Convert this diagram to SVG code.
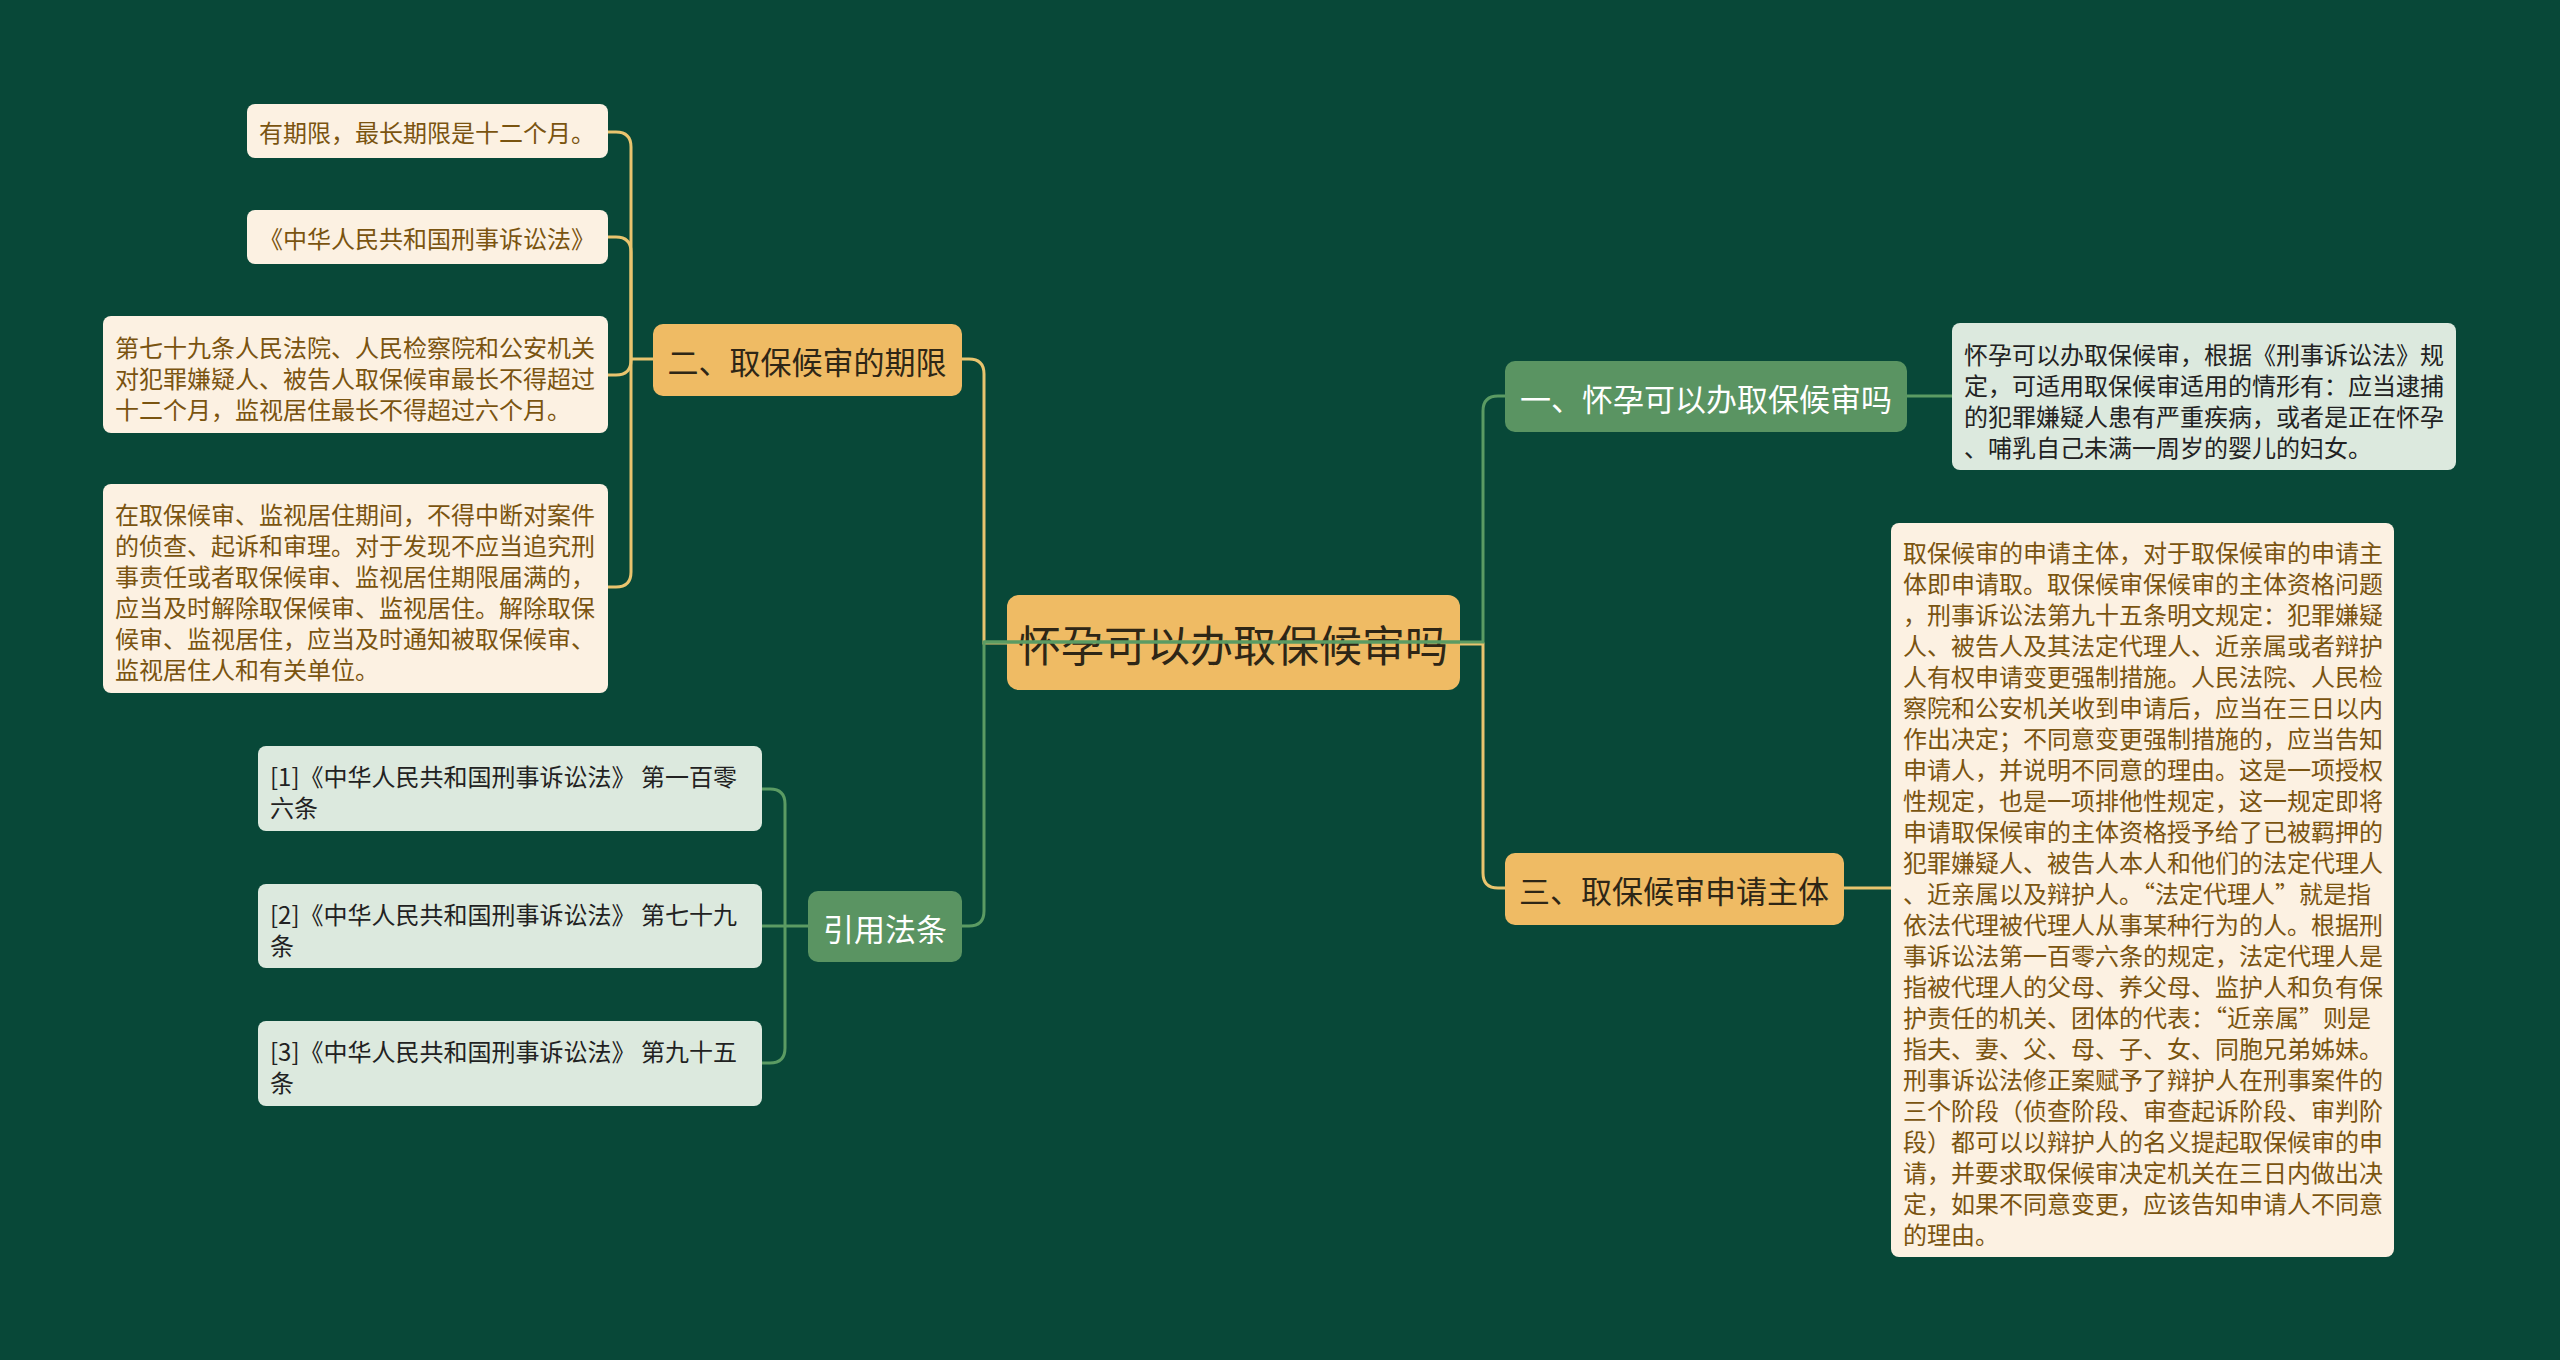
<svg xmlns="http://www.w3.org/2000/svg" width="2560" height="1360" viewBox="0 0 2560 1360">
<style>
text{font-family:"Noto Sans CJK SC","Noto Sans",sans-serif;dominant-baseline:central}
.bg{fill:#084838}
.root{fill:#efbb64}
.rootT{font-size:43px;fill:#2e2616;text-anchor:middle}
.y1{fill:#efbb64}
.y1T{font-size:31px;fill:#2e2616;text-anchor:middle}
.g1{fill:#5a9462}
.g1T{font-size:31px;fill:#ffffff;text-anchor:middle}
.cream{fill:#fcf1e2}
.creamT{font-size:24px;fill:#7a5410}
.lg{fill:#dce9de}
.lgT{font-size:24px;fill:#222222}
.cy{fill:none;stroke:#e9c46e;stroke-width:3}
.cg{fill:none;stroke:#5b9b63;stroke-width:3}
</style>
<rect class="bg" x="0" y="0" width="2560" height="1360"/>

<g id="root">
<rect class="root" x="1007" y="595" width="453" height="95" rx="12"/>
<text class="rootT" x="1233" y="643">怀孕可以办取保候审吗</text>
</g>

<g id="n2">
<rect class="y1" x="653" y="324" width="309" height="72" rx="10"/>
<text class="y1T" x="807" y="360">二、取保候审的期限</text>
</g>
<g id="n2a">
<rect class="cream" x="247" y="104" width="361" height="54" rx="8"/>
<text class="creamT" x="259" y="131">有期限，最长期限是十二个月。</text>
</g>
<g id="n2b">
<rect class="cream" x="247" y="210" width="361" height="54" rx="8"/>
<text class="creamT" x="259" y="237">《中华人民共和国刑事诉讼法》</text>
</g>
<g id="n2c">
<rect class="cream" x="103" y="316" width="505" height="117" rx="8"/>
<text class="creamT" x="115" y="346">第七十九条人民法院、人民检察院和公安机关</text>
<text class="creamT" x="115" y="377">对犯罪嫌疑人、被告人取保候审最长不得超过</text>
<text class="creamT" x="115" y="408">十二个月，监视居住最长不得超过六个月。</text>
</g>
<g id="n2d">
<rect class="cream" x="103" y="484" width="505" height="209" rx="8"/>
<text class="creamT" x="115" y="513">在取保候审、监视居住期间，不得中断对案件</text>
<text class="creamT" x="115" y="544">的侦查、起诉和审理。对于发现不应当追究刑</text>
<text class="creamT" x="115" y="575">事责任或者取保候审、监视居住期限届满的，</text>
<text class="creamT" x="115" y="606">应当及时解除取保候审、监视居住。解除取保</text>
<text class="creamT" x="115" y="637">候审、监视居住，应当及时通知被取保候审、</text>
<text class="creamT" x="115" y="668">监视居住人和有关单位。</text>
</g>

<g id="n4">
<rect class="g1" x="808" y="891" width="154" height="71" rx="10"/>
<text class="g1T" x="885" y="927">引用法条</text>
</g>
<g id="n4a">
<rect class="lg" x="258" y="746" width="504" height="85" rx="8"/>
<text class="lgT" x="270" y="775">[1]《中华人民共和国刑事诉讼法》 第一百零</text>
<text class="lgT" x="270" y="806">六条</text>
</g>
<g id="n4b">
<rect class="lg" x="258" y="884" width="504" height="84" rx="8"/>
<text class="lgT" x="270" y="913">[2]《中华人民共和国刑事诉讼法》 第七十九</text>
<text class="lgT" x="270" y="944">条</text>
</g>
<g id="n4c">
<rect class="lg" x="258" y="1021" width="504" height="85" rx="8"/>
<text class="lgT" x="270" y="1050">[3]《中华人民共和国刑事诉讼法》 第九十五</text>
<text class="lgT" x="270" y="1081">条</text>
</g>

<g id="n1">
<rect class="g1" x="1505" y="361" width="402" height="71" rx="10"/>
<text class="g1T" x="1706" y="397">一、怀孕可以办取保候审吗</text>
</g>
<g id="n1a">
<rect class="lg" x="1952" y="323" width="504" height="147" rx="8"/>
<text class="lgT" x="1964" y="353">怀孕可以办取保候审，根据《刑事诉讼法》规</text>
<text class="lgT" x="1964" y="384">定，可适用取保候审适用的情形有：应当逮捕</text>
<text class="lgT" x="1964" y="415">的犯罪嫌疑人患有严重疾病，或者是正在怀孕</text>
<text class="lgT" x="1964" y="446">、哺乳自己未满一周岁的婴儿的妇女。</text>
</g>

<g id="n3">
<rect class="y1" x="1505" y="853" width="339" height="72" rx="10"/>
<text class="y1T" x="1674" y="889">三、取保候审申请主体</text>
</g>
<g id="n3a">
<rect class="cream" x="1891" y="523" width="503" height="734" rx="8"/>
<text class="creamT" x="1903" y="551">取保候审的申请主体，对于取保候审的申请主</text>
<text class="creamT" x="1903" y="582">体即申请取。取保候审保候审的主体资格问题</text>
<text class="creamT" x="1903" y="613">，刑事诉讼法第九十五条明文规定：犯罪嫌疑</text>
<text class="creamT" x="1903" y="644">人、被告人及其法定代理人、近亲属或者辩护</text>
<text class="creamT" x="1903" y="675">人有权申请变更强制措施。人民法院、人民检</text>
<text class="creamT" x="1903" y="706">察院和公安机关收到申请后，应当在三日以内</text>
<text class="creamT" x="1903" y="737">作出决定；不同意变更强制措施的，应当告知</text>
<text class="creamT" x="1903" y="768">申请人，并说明不同意的理由。这是一项授权</text>
<text class="creamT" x="1903" y="799">性规定，也是一项排他性规定，这一规定即将</text>
<text class="creamT" x="1903" y="830">申请取保候审的主体资格授予给了已被羁押的</text>
<text class="creamT" x="1903" y="861">犯罪嫌疑人、被告人本人和他们的法定代理人</text>
<text class="creamT" x="1903" y="892">、近亲属以及辩护人。“法定代理人”就是指</text>
<text class="creamT" x="1903" y="923">依法代理被代理人从事某种行为的人。根据刑</text>
<text class="creamT" x="1903" y="954">事诉讼法第一百零六条的规定，法定代理人是</text>
<text class="creamT" x="1903" y="985">指被代理人的父母、养父母、监护人和负有保</text>
<text class="creamT" x="1903" y="1016">护责任的机关、团体的代表：“近亲属”则是</text>
<text class="creamT" x="1903" y="1047">指夫、妻、父、母、子、女、同胞兄弟姊妹。</text>
<text class="creamT" x="1903" y="1078">刑事诉讼法修正案赋予了辩护人在刑事案件的</text>
<text class="creamT" x="1903" y="1109">三个阶段（侦查阶段、审查起诉阶段、审判阶</text>
<text class="creamT" x="1903" y="1140">段）都可以以辩护人的名义提起取保候审的申</text>
<text class="creamT" x="1903" y="1171">请，并要求取保候审决定机关在三日内做出决</text>
<text class="creamT" x="1903" y="1202">定，如果不同意变更，应该告知申请人不同意</text>
<text class="creamT" x="1903" y="1233">的理由。</text>
</g>

<g id="connectors">
<path class="cy" d="M1007 643 H984 V374 Q984 359 969 359 H962"/>
<path class="cy" d="M1460 644 H1483 V873 Q1483 888 1498 888 H1505"/>
<path class="cy" d="M653 359 H631"/>
<path class="cy" d="M631 359 V147 Q631 132 616 132 H608"/>
<path class="cy" d="M631 359 V252 Q631 237 616 237 H608"/>
<path class="cy" d="M631 359 V360 Q631 375 616 375 H608"/>
<path class="cy" d="M631 359 V572 Q631 587 616 587 H608"/>
<path class="cy" d="M1844 888 H1891"/>
<path class="cg" d="M984 642 H1483 V411 Q1483 396 1498 396 H1505"/>
<path class="cg" d="M1460 642 H984 V911 Q984 926 969 926 H962"/>
<path class="cg" d="M1907 396 H1952"/>
<path class="cg" d="M808 926 H785"/>
<path class="cg" d="M785 926 V804 Q785 789 770 789 H762"/>
<path class="cg" d="M785 926 H762"/>
<path class="cg" d="M785 926 V1048 Q785 1063 770 1063 H762"/>
</g>
</svg>
